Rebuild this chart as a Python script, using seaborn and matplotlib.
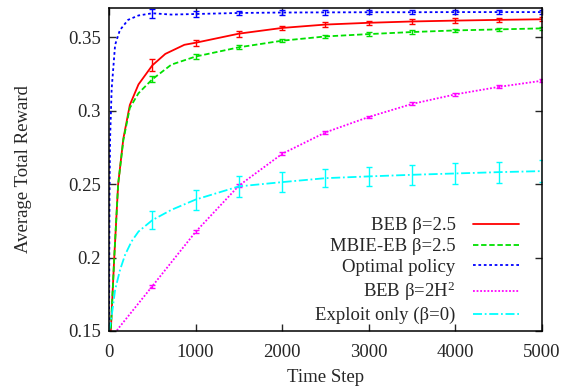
import numpy as np
import pandas as pd
import matplotlib
matplotlib.use('Agg')
import matplotlib.pyplot as plt
import seaborn as sns

# curves
t_beb = [0, 20, 60, 105, 165, 240, 340, 500, 650, 870, 1000, 1500, 2000,
         2500, 3000, 3500, 4000, 4500, 5000]
beb = [0.135, 0.15, 0.20, 0.25, 0.281, 0.304, 0.318, 0.331, 0.3388, 0.345,
       0.3464, 0.3526, 0.3565, 0.3588, 0.3600, 0.3609, 0.3615, 0.3620, 0.3624]

t_mbie = [0, 20, 60, 105, 165, 240, 340, 500, 720, 1000, 1500, 2000,
          2500, 3000, 3500, 4000, 4500, 5000]
mbie = [0.135, 0.15, 0.20, 0.25, 0.280, 0.302, 0.312, 0.3215, 0.3315, 0.3370,
        0.3433, 0.3478, 0.3507, 0.3523, 0.3537, 0.3548, 0.3555, 0.3562]

t_opt = [0, 5, 12, 30, 70, 125, 220, 340, 500, 720, 1000, 1500, 2000, 2500, 3000,
         3500, 4000, 4500, 5000]
opt = [0.15, 0.24, 0.281, 0.315, 0.345, 0.355, 0.362, 0.365, 0.3665, 0.3656, 0.3660,
       0.3667, 0.3670, 0.3671, 0.3672, 0.3672, 0.3673, 0.3673, 0.3673]

t_bebh = [0, 105, 500, 1000, 1500, 2000, 2500, 3000, 3500, 4000, 4500, 5000]
bebh = [0.142, 0.1515, 0.1805, 0.2175, 0.2490, 0.2707, 0.2853, 0.2958, 0.3047,
        0.3112, 0.3163, 0.3205]

t_expl = [0, 30, 70, 127, 185, 260, 340, 500, 720, 1000, 1500, 2000, 2500, 3000,
          3500, 4000, 4500, 5000]
expl = [0.15, 0.160, 0.178, 0.1916, 0.2018, 0.211, 0.2177, 0.2255, 0.2325, 0.2395,
        0.2485, 0.2514, 0.2541, 0.2553, 0.2564, 0.2573, 0.2582, 0.2589]

# error bars every 500 steps
t_err = [500, 1000, 1500, 2000, 2500, 3000, 3500, 4000, 4500, 5000]
beb_err = [0.004, 0.002, 0.002, 0.0015, 0.0015, 0.0015, 0.0015, 0.0015, 0.0015, 0.0015]
mbie_err = [0.002, 0.0015, 0.0015, 0.0012, 0.0012, 0.0012, 0.0012, 0.0012, 0.0012, 0.0012]
opt_err = [0.003, 0.002, 0.0015, 0.0015, 0.0015, 0.0015, 0.0015, 0.0015, 0.0015, 0.0015]
bebh_err = [0.001, 0.001, 0.001, 0.001, 0.001, 0.001, 0.001, 0.001, 0.001, 0.001]
expl_err = [0.006, 0.0068, 0.007, 0.007, 0.006, 0.0065, 0.0068, 0.007, 0.0072, 0.0075]

labels = ['BEB β=2.5', 'MBIE-EB β=2.5', 'Optimal policy', 'BEB β=2H$^{2}$',
          'Exploit only (β=0)']
colors = ['#ff0000', '#00e000', '#0000ff', '#ff00ff', '#00ffff']
dashes = [(None, None), (3, 1.5), (1.5, 1.5), (1, 1), (5, 1.5, 1, 1.5)]

series = [(t_beb, beb, beb_err), (t_mbie, mbie, mbie_err), (t_opt, opt, opt_err),
          (t_bebh, bebh, bebh_err), (t_expl, expl, expl_err)]

sns.set_style("ticks")
plt.rcParams['font.family'] = ['Liberation Serif', 'DejaVu Serif']
plt.rcParams['mathtext.fontset'] = 'custom'
plt.rcParams['mathtext.rm'] = 'Liberation Serif'
plt.rcParams['mathtext.it'] = 'Liberation Serif:italic'
plt.rcParams['font.size'] = 13

fig = plt.figure(figsize=(5.68, 3.87), dpi=100)
ax = fig.add_axes([0.192, 0.145, 0.762, 0.834])

for (t, y, e), lab, c, d in zip(series, labels, colors, dashes):
    df = pd.DataFrame({'t': t, 'y': y})
    line = sns.lineplot(data=df, x='t', y='y', ax=ax, color=c, lw=1.3, label=lab,
                        sort=False).lines[-1]
    if d[0] is not None:
        line.set_dashes(d)
    ey = np.interp(t_err, t, y)
    ax.errorbar(t_err, ey, yerr=e, fmt='none', ecolor=c, elinewidth=1.0,
                capsize=2.2, capthick=1.0)

ax.set_xlim(0, 5000)
ax.set_ylim(0.15, 0.37)
ax.set_xticks([0, 1000, 2000, 3000, 4000, 5000])
ax.set_yticks([0.15, 0.2, 0.25, 0.3, 0.35])
ax.set_yticklabels(['0.15', '0.2', '0.25', '0.3', '0.35'])
ax.tick_params(direction='in', top=True, right=True, length=5, width=1,
               labelsize=13.5, pad=6)
ax.tick_params(axis='x', pad=9.5)
for s in ax.spines.values():
    s.set_linewidth(1.1)
    s.set_color('black')
ax.set_xlabel('Time Step', fontsize=13.5, labelpad=6)
ax.set_ylabel('Average Total Reward', fontsize=13.5, labelpad=26)

leg = ax.legend(loc='lower right', bbox_to_anchor=(0.977, -0.02), frameon=False,
                markerfirst=False, fontsize=13.5, handlelength=2.45,
                handletextpad=0.92, labelspacing=0.2, borderaxespad=0.3)

fig.savefig('out.png', dpi=100)
